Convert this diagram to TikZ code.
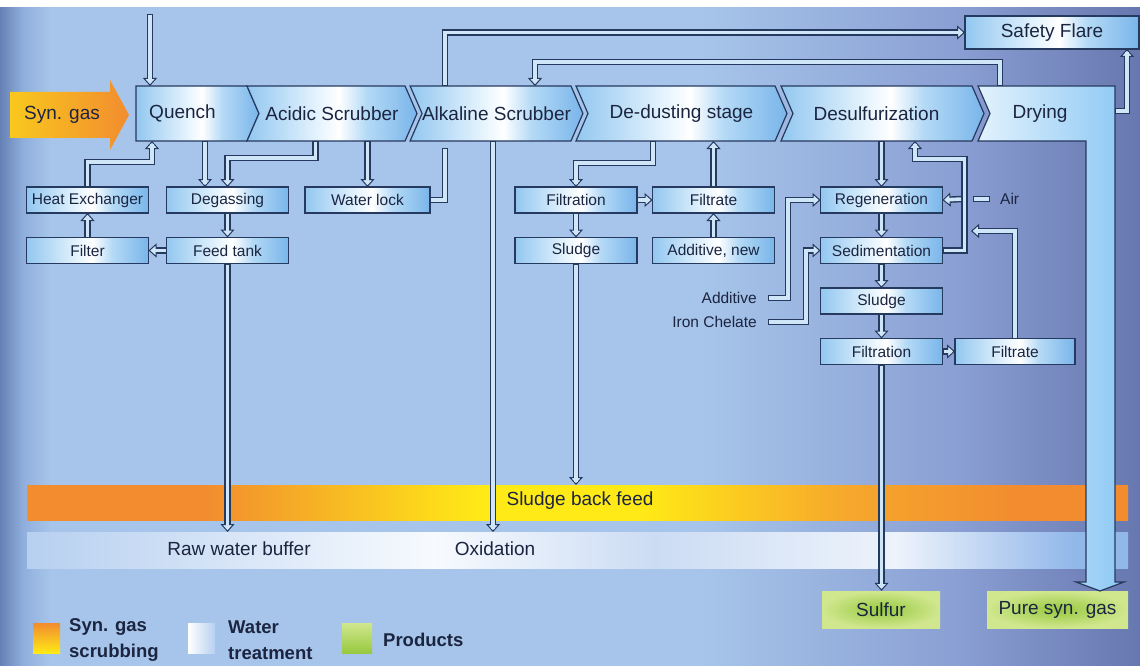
\documentclass[tikz,border=0pt]{standalone}
\usepackage{fontspec}
\setmainfont{Liberation Sans}
\usetikzlibrary{shapes.symbols,arrows.meta,calc}

\definecolor{bgdark}{HTML}{6681B5}
\definecolor{bgleft}{HTML}{8FAEDC}
\definecolor{bgmid}{HTML}{A7C5EA}
\definecolor{bgright}{HTML}{8A9FD3}
\definecolor{bgfar}{HTML}{6777AF}
\definecolor{linedark}{HTML}{26395E}
\definecolor{pipelight}{HTML}{CFE5F8}
\definecolor{txt}{HTML}{1B2540}
\definecolor{boxa}{HTML}{93C7F0}
\definecolor{boxb}{HTML}{E2F2FD}
\definecolor{boxc}{HTML}{B5DAF6}
\definecolor{boxd}{HTML}{79B5EA}
\definecolor{barblue}{HTML}{8EC9F4}
\definecolor{gasorange}{HTML}{F28C2F}
\definecolor{gasmid}{HTML}{F6A92C}
\definecolor{gasgold}{HTML}{F9C81E}
\definecolor{gasyellow}{HTML}{FFE916}
\definecolor{waterblue}{HTML}{B7D0F0}
\definecolor{waterwhite}{HTML}{F7FAFE}
\definecolor{waterpale}{HTML}{CCDCF4}
\definecolor{waterlight}{HTML}{EDF3FB}
\definecolor{waterend}{HTML}{92B8EA}
\definecolor{prodlight}{HTML}{D0E78E}
\definecolor{proddark}{HTML}{98C940}

\pgfdeclarehorizontalshading{bgshade}{100bp}{color(0bp)=(bgdark); color(25bp)=(bgdark);
  color(26bp)=(bgleft); color(27.2bp)=(bgmid); color(55.7bp)=(bgmid);
  color(67bp)=(bgright); color(75bp)=(bgfar); color(100bp)=(bgfar)}
\pgfdeclarehorizontalshading{boxshade}{100bp}{color(0bp)=(boxa); color(25bp)=(boxa);
  color(45bp)=(boxb); color(52bp)=(white); color(60bp)=(boxc); color(75bp)=(boxd); color(100bp)=(boxd)}
\pgfdeclarehorizontalshading{sludgeshade}{100bp}{color(0bp)=(gasorange); color(33bp)=(gasorange);
  color(45.5bp)=(gasyellow); color(53bp)=(gasyellow); color(62bp)=(gasmid);
  color(70bp)=(gasorange); color(100bp)=(gasorange)}
\pgfdeclarehorizontalshading{watershade}{100bp}{color(0bp)=(waterblue); color(25bp)=(waterblue);
  color(43.5bp)=(waterwhite); color(53.5bp)=(waterpale); color(64.5bp)=(waterlight);
  color(72.5bp)=(waterend); color(100bp)=(waterend)}

\newcommand{\bigtext}{\fontsize{19}{24}\selectfont}

\begin{document}
\begin{tikzpicture}[x=1pt,y=-1pt,
  font=\fontsize{15.5}{18}\selectfont, text=txt,
  box/.style={draw=linedark, line width=1.2pt, shade, shading=boxshade,
    minimum width=122pt, minimum height=26pt, inner sep=0pt, outer sep=0pt},
  stage/.style={signal, signal to=east, signal from=west, signal pointer angle=133,
    draw=linedark, line width=1.2pt, shade, shading=boxshade,
    minimum height=55pt, inner sep=0pt, outer sep=0pt, font=\bigtext},
  band/.style={minimum width=1101pt, minimum height=35pt, inner sep=0pt, outer sep=0pt},
  bandtext/.style={font=\bigtext, inner sep=0pt},
  product/.style={shade, inner color=proddark, outer color=prodlight,
    minimum height=37pt, inner sep=0pt, font=\bigtext},
  lbl/.style={inner sep=2pt},
  key/.style={minimum height=30pt, inner sep=0pt, outer sep=0pt},
  keytext/.style={font=\fontsize{18.5}{26}\selectfont\bfseries, align=left, anchor=west, inner sep=0pt},
  pipe/.style={draw=linedark, line width=6.5pt,
    postaction={draw=pipelight, line width=3.6pt, shorten <=1pt, shorten >=1pt}},
  flow/.style={draw=linedark, line width=6.5pt,
    -{Triangle[fill=pipelight, line width=1pt, length=8pt, width=14pt]},
    postaction={draw=pipelight, line width=3.6pt, arrows=-, shorten <=1pt, shorten >=3.5pt}}]

\useasboundingbox (0,0) rectangle (1140,666);
\shade[shading=bgshade] (0,0) rectangle (1140,666);
\fill[white] (0,0) rectangle (1140,7);

% bands
\node[band, shade, shading=sludgeshade] (sludgeband) at (577.5,502.5) {};
\node[band, shade, shading=watershade, minimum height=36pt] (waterband) at (577.5,550) {};
\node[bandtext] (backfeed) at (580,501) {Sludge back feed};
\node[bandtext] (rawwater) at (239,549) {Raw water buffer};
\node[bandtext] (oxidation) at (495,549) {Oxidation};

% products
\node[product, minimum width=118pt] (sulfur) at (881,609.5) {Sulfur};
\node[product, minimum width=141pt] (pure) at (1057.5,609.5) {Pure syn. gas};

% syn gas inlet
\shade[left color=gasgold, right color=gasorange] (10,92) -- (110,92) -- (110,80) -- (129,115)
  -- (110,150) -- (110,138) -- (10,138) -- cycle;
\node[font=\bigtext] (syngas) at (62,115) {Syn. gas};

% drying stage, runs down to the outlet
\shade[draw=linedark, line width=1.2pt, left color=boxb, right color=barblue]
  (978,86) -- (1115,86) -- (1115,582) -- (1124,582) -- (1100,591) -- (1076,582)
  -- (1086,582) -- (1086,141) -- (978,141) -- (990,113.5) -- cycle;
\node[font=\bigtext] (drying) at (1040,113.5) {Drying};
\coordinate (drytop) at (1000,86);
\coordinate (dryside) at (1115,111);

% main stages
\node[stage, signal from=nowhere, minimum width=123pt] (quench) at (191.5,113.5) {\hspace*{-18pt}Quench};
\node[stage, minimum width=170pt] (acid) at (332,113.5) {Acidic Scrubber};
\node[stage, minimum width=171pt] (alk) at (496.5,113.5) {Alkaline Scrubber};
\node[stage, minimum width=211pt] (dedust) at (681.5,113.5) {De-dusting stage};
\node[stage, minimum width=203pt] (desulf) at (882.5,113.5) {\hspace*{-12pt}Desulfurization};
\node[box, minimum width=174pt, minimum height=33pt, font=\bigtext] (flare) at (1052,32.5) {Safety Flare};

% units
\node[box] (hx) at (87.5,200) {Heat Exchanger};
\node[box] (degas) at (227.5,200) {Degassing};
\node[box, minimum width=125pt] (wlock) at (367.5,200) {Water lock};
\node[box] (filt1) at (576,200) {Filtration};
\node[box] (filtr1) at (713.5,200) {Filtrate};
\node[box] (regen) at (881.5,200) {Regeneration};
\node[box] (filter) at (87.5,250.5) {Filter};
\node[box] (feed) at (227.5,250.5) {Feed tank};
\node[box] (sludge1) at (576,250.5) {Sludge};
\node[box] (addnew) at (713.5,250.5) {Additive, new};
\node[box] (sedim) at (881.5,250.5) {Sedimentation};
\node[box] (sludge2) at (881.5,301) {Sludge};
\node[box] (filt2) at (881.5,351.5) {Filtration};
\node[box, minimum width=120pt] (filtr2) at (1015,351.5) {Filtrate};

\node[lbl, anchor=east] (additive) at (759,298) {Additive};
\node[lbl, anchor=east] (iron) at (759,322) {Iron Chelate};
\node[lbl, anchor=west] (air) at (998,199) {Air};

% legend
\node[key, top color=gasorange, bottom color=gasyellow, minimum width=27pt] (keygas) at (46.5,638) {};
\node[keytext] (keygastext) at ($(keygas.east)+(9,2)$) {Syn. gas\\scrubbing};
\node[key, left color=white, right color=waterblue, minimum width=27pt] (keywater) at (201.5,638) {};
\node[keytext] (keywatertext) at ($(keywater.east)+(13,2)$) {Water\\treatment};
\node[key, top color=prodlight, bottom color=proddark, minimum width=30pt] (keyprod) at (357,638) {};
\node[keytext] (keyprodtext) at ($(keyprod.east)+(11,2)$) {Products};

% pipes
\coordinate (waterin) at (150,14);
\draw[flow] (waterin) -- (waterin |- quench.north);
\draw[flow] ($(alk.north)+(-51.5,0)$) |- (flare.west);
\draw[flow] (drytop) -- ++(0,-24) -| ($(alk.north)+(38.5,0)$);
\draw[flow] (dryside) -| ($(flare.south)+(75,0)$);
\coordinate (qcol) at ($(degas.north)+(-22.5,0)$);
\draw[flow] (qcol |- quench.south) -- (qcol);
\draw[flow] ($(acid.south)+(-16.5,0)$) -- ++(0,17) -| (degas.north);
\draw[flow] (wlock.north |- acid.south) -- (wlock.north);
\draw[flow] (degas.south) -- (feed.north);
\draw[flow] (feed.west) -- (filter.east);
\draw[flow] (filter.north) -- (hx.south);
\draw[flow] (hx.north) -- ++(0,-25) -| ($(quench.south)+(-39.5,0)$);
\draw[pipe] ($(alk.south)+(-51.5,7)$) |- (wlock.east);
\coordinate (oxcol) at ($(alk.south)+(-3.5,0)$);
\draw[flow] (oxcol) -- (oxcol |- waterband.north);
\draw[flow] (feed.south) -- (feed.south |- waterband.north);
\draw[flow] ($(dedust.south)+(-28.5,0)$) -- ++(0,22) -| (filt1.north);
\draw[flow] (filt1.east) -- (filtr1.west);
\draw[flow] (filtr1.north) -- (filtr1.north |- dedust.south);
\draw[flow] (addnew.north) -- (filtr1.south);
\draw[flow] (filt1.south) -- (sludge1.north);
\draw[flow] (sludge1.south) -- (sludge1.south |- sludgeband.north);
\draw[flow] (regen.north |- desulf.south) -- (regen.north);
\draw[flow] (sedim.east) -- ++(22,0) -- ++(0,-91.5) -| ($(desulf.south)+(32.5,0)$);
\draw[flow] (regen.south) -- (sedim.north);
\draw[flow] (sedim.south) -- (sludge2.north);
\draw[flow] (sludge2.south) -- (filt2.north);
\draw[flow] (filt2.east) -- (filtr2.west);
\coordinate (backin) at (971,231);
\draw[flow] (filtr2.north) |- (backin);
\draw[flow] ([xshift=9pt]additive.east) -- ++(20,0) |- (regen.west);
\draw[flow] ([xshift=9pt]iron.east) -- ++(38,0) |- (sedim.west);
\draw[pipe] ([xshift=-8pt]air.west) -- ++(-17,0);
\draw[flow] ([xshift=-36pt]air.west) -- (regen.east);
\draw[flow] (filt2.south) -- (filt2.south |- sulfur.north);
\end{tikzpicture}
\end{document}
